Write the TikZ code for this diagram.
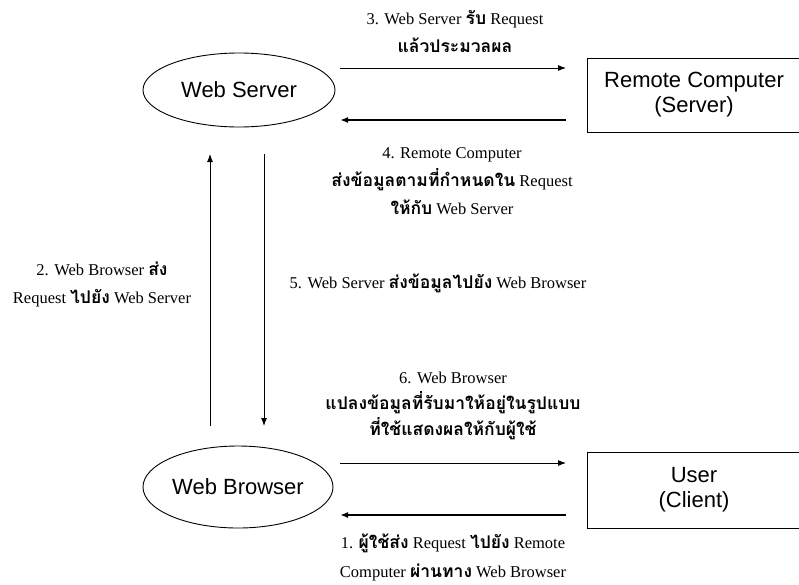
\documentclass[tikz,border=0pt]{standalone}
\usepackage{fontspec}
\setmainfont{Liberation Serif}
\newfontfamily\thai[Script=Thai]{Loma}
\newfontfamily\arialf{Liberation Sans}
\newcommand\thx[1]{{\thai\bfseries\fontsize{17.5}{20}\selectfont #1}}
\newcommand\padr{\hspace*{14pt}}
\usetikzlibrary{arrows.meta,shapes.geometric}
\begin{document}
\begin{tikzpicture}[x=1pt,y=-1pt,
  ell/.style={draw,ellipse,line width=0.9pt,inner sep=0pt,font=\arialf\fontsize{22}{24}\selectfont},
  boxnode/.style={draw,line width=0.9pt,align=center,minimum width=228pt,inner sep=0pt,font=\arialf\fontsize{22}{25}\selectfont},
  lbl/.style={align=center,inner sep=0pt,font=\fontsize{16.5}{28}\selectfont},
  thin arrow/.style={-{Latex[length=8pt,width=6pt]},line width=0.9pt},
  thick arrow/.style={-{Latex[length=8pt,width=6pt]},line width=1.6pt}
]
\useasboundingbox (0,0) rectangle (799,584);

% nodes
\node[ell,minimum width=192pt,minimum height=74pt] (ws) at (239,90) {Web Server};
\node[ell,minimum width=190pt,minimum height=82pt] (wb) at (238,487) {Web Browser};
\node[boxnode,minimum height=74pt] (rc) at (701,95) {Remote Computer\padr\\(Server)\padr};
\node[boxnode,minimum height=76pt] (us) at (701,490) {User\padr\\(Client)\padr};

% connector ends
\coordinate (a3s) at (340,68);  \coordinate (a3e) at (566,68);
\coordinate (a4s) at (566,120); \coordinate (a4e) at (340,120);
\coordinate (a2s) at (210,426); \coordinate (a2e) at (210,154);
\coordinate (a5s) at (264,154); \coordinate (a5e) at (264,426);
\coordinate (a6s) at (340,463); \coordinate (a6e) at (566,463);
\coordinate (a1s) at (566,515); \coordinate (a1e) at (340,515);

\draw[thin arrow] (a3s) -- (a3e);
\draw[thick arrow] (a4s) -- (a4e);
\draw[thin arrow] (a2s) -- (a2e);
\draw[thin arrow] (a5s) -- (a5e);
\draw[thin arrow] (a6s) -- (a6e);
\draw[thick arrow] (a1s) -- (a1e);

% labels
\node[lbl] (l3) at (455,31) {3. Web Server \thx{รับ} Request\\\thx{แล้วประมวลผล}};
\node[lbl] (l4) at (452,181) {4. Remote Computer\\\thx{ส่งข้อมูลตามที่กำหนดใน} Request\\\thx{ให้กับ} Web Server};
\node[lbl] (l2) at (102,284) {2. Web Browser \thx{ส่ง}\\Request \thx{ไปยัง} Web Server};
\node[lbl] (l5) at (438,283) {5. Web Server \thx{ส่งข้อมูลไปยัง} Web Browser};
\node[lbl,font=\fontsize{16.5}{26}\selectfont] (l6) at (453,406) {6. Web Browser\\\thx{แปลงข้อมูลที่รับมาให้อยู่ในรูปแบบ}\\\thx{ที่ใช้แสดงผลให้กับผู้ใช้}};
\node[lbl,font=\fontsize{16.5}{29}\selectfont] (l1) at (453,557) {1. \thx{ผู้ใช้ส่ง} Request \thx{ไปยัง} Remote\\Computer \thx{ผ่านทาง} Web Browser};
\end{tikzpicture}
\end{document}
